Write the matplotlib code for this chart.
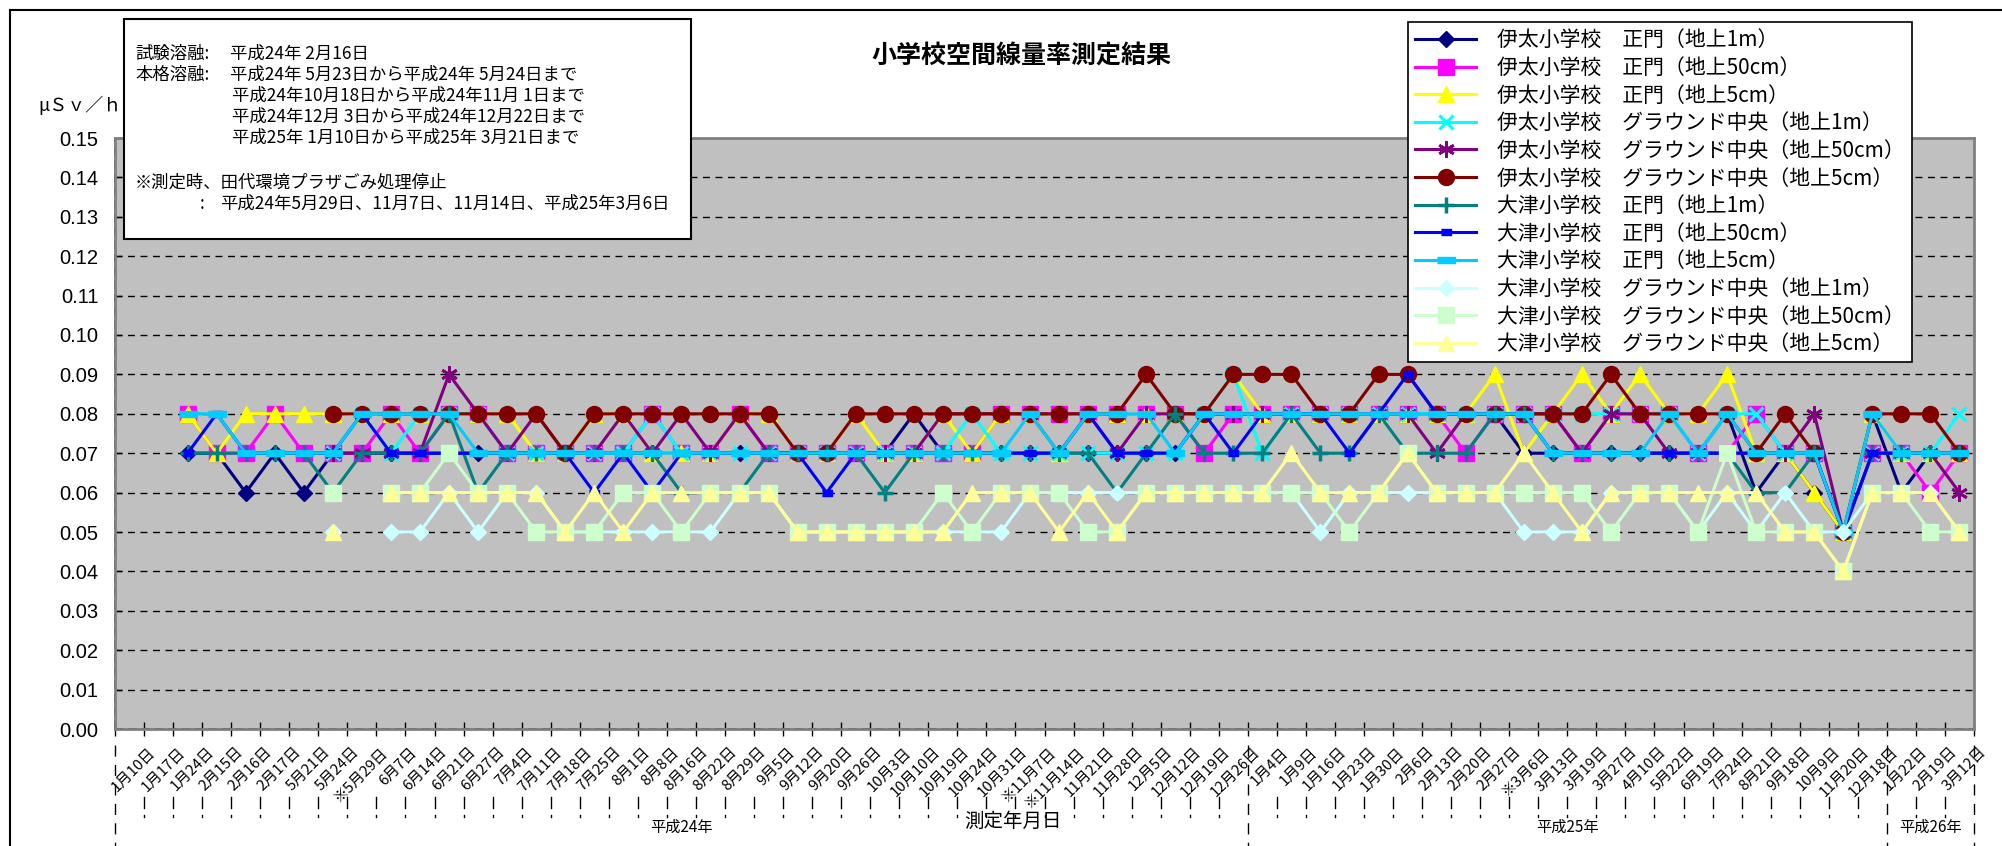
import matplotlib
matplotlib.use('Agg')
import matplotlib.pyplot as plt
import matplotlib.transforms as mtransforms
from matplotlib.lines import Line2D
from matplotlib.patches import Rectangle
import numpy as np

plt.rcParams['font.family'] = ['Noto Sans CJK JP', 'DejaVu Sans']

# ---- data -------------------------------------------------------------
dates = ['1月10日', '1月17日', '1月24日', '2月15日', '2月16日', '2月17日', '5月21日', '5月24日',
         '※5月29日', '6月7日', '6月14日', '6月21日', '6月27日', '7月4日', '7月11日', '7月18日',
         '7月25日', '8月1日', '8月8日', '8月16日', '8月22日', '8月29日', '9月5日', '9月12日',
         '9月20日', '9月26日', '10月3日', '10月10日', '10月19日', '10月24日', '10月31日', '※11月7日',
         '※11月14日', '11月21日', '11月28日', '12月5日', '12月12日', '12月19日', '12月26日', '1月4日',
         '1月9日', '1月16日', '1月23日', '1月30日', '2月6日', '2月13日', '2月20日', '2月27日',
         '※3月6日', '3月13日', '3月19日', '3月27日', '4月10日', '5月22日', '6月19日', '7月24日',
         '8月21日', '9月18日', '10月9日', '11月20日', '12月18日', '1月22日', '2月19日', '3月12日']

years = ['平成24年', '平成25年', '平成26年']
year_counts = [39, 22, 3]

names = ['伊太小学校　正門（地上1m）', '伊太小学校　正門（地上50cm）', '伊太小学校　正門（地上5cm）',
         '伊太小学校　グラウンド中央（地上1m）', '伊太小学校　グラウンド中央（地上50cm）',
         '伊太小学校　グラウンド中央（地上5cm）',
         '大津小学校　正門（地上1m）', '大津小学校　正門（地上50cm）', '大津小学校　正門（地上5cm）',
         '大津小学校　グラウンド中央（地上1m）', '大津小学校　グラウンド中央（地上50cm）',
         '大津小学校　グラウンド中央（地上5cm）']

N = None
ita_gate_1m = [N, N, .07, .07, .06, .07, .06, .07, .07, .07, .07, .07, .07, .07, .07, .07,
               .07, .07, .07, .07, .07, .07, .07, .07, .07, .07, .07, .08, .07, .07, .07, .07,
               .07, .07, .07, .07, .07, .08, .08, .08, .08, .08, .08, .08, .08, .08, .08, .08,
               .07, .07, .07, .07, .07, .07, .07, .08, .06, .07, .06, .05, .08, .06, .07, .07]
ita_gate_50 = [N, N, .08, .07, .07, .08, .07, .07, .07, .08, .07, .08, .08, .07, .07, .07,
               .07, .07, .08, .07, .07, .08, .07, .07, .07, .07, .07, .07, .07, .07, .08, .08,
               .08, .08, .08, .08, .08, .07, .08, .08, .08, .08, .08, .08, .08, .08, .07, .08,
               .08, .08, .07, .08, .08, .08, .07, .07, .08, .07, .07, .05, .07, .07, .06, .07]
ita_gate_5 = [N, N, .08, .07, .08, .08, .08, .08, .08, .08, .08, .08, .08, .08, .07, .07,
              .08, .08, .07, .07, .07, .08, .08, .07, .07, .08, .07, .07, .08, .07, .08, .08,
              .07, .08, .08, .08, .08, .08, .09, .08, .08, .08, .08, .08, .08, .08, .08, .09,
              .07, .08, .09, .08, .09, .08, .08, .09, .07, .07, .06, .05, .08, .07, .07, .07]
ita_grd_1m = [N, N, N, N, N, N, N, .07, .08, .07, .08, .08, .08, .07, .07, .07,
              .07, .07, .08, .07, .07, .07, .07, .07, .07, .07, .07, .07, .07, .08, .07, .07,
              .07, .07, .07, .07, .07, .08, .09, .07, .08, .08, .08, .08, .08, .08, .08, .08,
              .08, .08, .08, .08, .08, .08, .07, .08, .08, .07, .07, .05, .07, .07, .07, .08]
ita_grd_50 = [N, N, N, N, N, N, N, .07, .07, .07, .07, .09, .08, .07, .08, .07,
              .07, .08, .07, .08, .07, .08, .07, .07, .07, .07, .07, .07, .08, .08, .08, .08,
              .07, .08, .07, .08, .08, .08, .08, .08, .08, .08, .08, .08, .08, .07, .08, .08,
              .08, .08, .07, .08, .08, .07, .07, .07, .07, .07, .08, .05, .07, .07, .07, .06]
ita_grd_5 = [N, N, N, N, N, N, N, .08, .08, .08, .08, .08, .08, .08, .08, .07,
             .08, .08, .08, .08, .08, .08, .08, .07, .07, .08, .08, .08, .08, .08, .08, .08,
             .08, .08, .08, .09, .08, .08, .09, .09, .09, .08, .08, .09, .09, .08, .08, .08,
             .08, .08, .08, .09, .08, .08, .08, .08, .07, .08, .07, .05, .08, .08, .08, .07]
otsu_gate_1m = [N, N, .07, .07, .07, .07, .07, .06, .07, .07, .07, .08, .06, .07, .07, .07,
                .07, .07, .07, .06, .06, .06, .07, .07, .07, .07, .06, .07, .07, .07, .07, .07,
                .07, .07, .06, .07, .08, .07, .07, .07, .08, .07, .07, .08, .07, .07, .07, .08,
                .08, .07, .07, .07, .07, .07, .07, .07, .06, .06, .07, .05, .07, .07, .07, .07]
otsu_gate_50 = [N, N, .07, .08, .07, .07, .07, .07, .08, .07, .07, .07, .07, .07, .07, .07,
                .06, .07, .06, .07, .07, .07, .07, .07, .06, .07, .07, .07, .07, .07, .07, .07,
                .07, .08, .07, .07, .07, .08, .07, .08, .08, .08, .07, .08, .09, .08, .08, .08,
                .08, .07, .07, .07, .07, .07, .07, .07, .07, .07, .07, .05, .07, .07, .07, .07]
otsu_gate_5 = [N, N, .08, .08, .07, .07, .07, .07, .08, .08, .08, .08, .07, .07, .07, .07,
               .07, .07, .07, .07, .07, .07, .07, .07, .07, .07, .07, .07, .07, .07, .07, .08,
               .07, .08, .08, .08, .07, .08, .08, .08, .08, .08, .08, .08, .08, .08, .08, .08,
               .08, .07, .07, .07, .07, .08, .07, .08, .07, .07, .07, .05, .08, .07, .07, .07]
otsu_grd_1m = [N, N, N, N, N, N, N, .05, N, .05, .05, .06, .05, .06, .06, .05,
               .05, .05, .05, .05, .05, .06, .06, .05, .05, .05, .05, .05, .05, .05, .05, .06,
               .06, .06, .06, .06, .06, .06, .06, .06, .06, .05, .06, .06, .06, .06, .06, .06,
               .05, .05, .05, .06, .06, .06, .05, .06, .05, .06, .05, .05, .06, .06, .06, .05]
otsu_grd_50 = [N, N, N, N, N, N, N, .06, N, .06, .06, .07, .06, .06, .05, .05,
               .05, .06, .06, .05, .06, .06, .06, .05, .05, .05, .05, .05, .06, .05, .06, .06,
               .06, .05, .05, .06, .06, .06, .06, .06, .06, .06, .05, .06, .07, .06, .06, .06,
               .06, .06, .06, .05, .06, .06, .05, .07, .05, .05, .05, .04, .06, .06, .05, .05]
otsu_grd_5 = [N, N, N, N, N, N, N, .05, N, .06, .06, .06, .06, .06, .06, .05,
              .06, .05, .06, .06, .06, .06, .06, .05, .05, .05, .05, .05, .05, .06, .06, .06,
              .05, .06, .05, .06, .06, .06, .06, .06, .07, .06, .06, .06, .07, .06, .06, .06,
              .07, .06, .05, .06, .06, .06, .06, .06, .06, .05, .05, .04, .06, .06, .06, .05]

series = [ita_gate_1m, ita_gate_50, ita_gate_5, ita_grd_1m, ita_grd_50, ita_grd_5,
          otsu_gate_1m, otsu_gate_50, otsu_gate_5, otsu_grd_1m, otsu_grd_50, otsu_grd_5]

# ---- styles ---------------------------------------------------------------
bar_small = [(-1, -0.5), (1, -0.5), (1, 0.5), (-1, 0.5)]
bar_wide = [(-1, -0.3), (1, -0.3), (1, 0.3), (-1, 0.3)]
styles = [
    ('#000080', 'D', 8.5, 1),
    ('#FF00FF', 's', 11, 1),
    ('#FFFF00', '^', 11, 1),
    ('#00FFFF', 'x', 10, 2.2),
    ('#800080', (6, 2, 0), 12, 2),
    ('#800000', 'o', 11.5, 1),
    ('#008080', '+', 12, 2.5),
    ('#0000FF', bar_small, 7.5, 1),
    ('#00CCFF', bar_wide, 12.5, 1),
    ('#CCFFFF', 'D', 8.5, 1),
    ('#CCFFCC', 's', 11, 1),
    ('#FFFF99', '^', 11, 1),
]

W, H = 2002, 846
fig = plt.figure(figsize=(W / 100, H / 100), dpi=100)
fig.patch.set_facecolor('white')


def fx(px):
    return px / W


def fy(py):
    return 1 - py / H


left, right, top, bottom = 115, 1974, 138, 729
ax = fig.add_axes([fx(left), fy(bottom), fx(right - left), (bottom - top) / H])
ax.set_facecolor('#C0C0C0')
ax.set_xlim(-0.5, len(dates) - 0.5)
ax.set_ylim(0, 0.15)

x = np.arange(len(dates))
for vals, name, (c, m, ms, mew) in zip(series, names, styles):
    ax.plot(x, np.array(vals, dtype=float), color=c, lw=2.2, marker=m, markersize=ms,
            markerfacecolor=c, markeredgecolor=c, markeredgewidth=mew, label=name, zorder=3)

# grid
for v in np.arange(0.01, 0.145, 0.01):
    ax.axhline(v, color='black', lw=1, ls=(0, (5, 4)), zorder=1)
for sp in ax.spines.values():
    sp.set_color('#808080')
    sp.set_linewidth(2)
ax.axvline(-0.5, color='black', lw=1.2, ls=(0, (5, 3)), zorder=2.5, clip_on=False)
ax.axhline(0, color='black', lw=1.2, ls=(0, (5, 3)), zorder=2.5, clip_on=False)

ax.set_yticks(np.arange(0, 0.151, 0.01))
ax.set_yticklabels(['%.2f' % v for v in np.arange(0, 0.151, 0.01)],
                   fontfamily='Liberation Sans', fontsize=14.5)
ax.tick_params(axis='y', direction='in', length=5, width=1, color='black', pad=12)
ax.set_xticks(np.arange(-0.5, len(dates), 1))
ax.set_xticklabels([])
ax.tick_params(axis='x', direction='inout', length=10, width=1, color='black')

# category labels
base = mtransforms.blended_transform_factory(ax.transData, ax.transAxes)
off = mtransforms.ScaledTranslation(19 / 100, -16 / 100, fig.dpi_scale_trans)
for i, lab in enumerate(dates):
    ax.text(i, 0, lab, transform=base + off, rotation=45, ha='right', va='top',
            rotation_mode='anchor', fontsize=10.8, clip_on=False)

# year group labels and divider lines
step = (right - left) / len(dates)
k = 0
bounds = [0]
for yl, cnt in zip(years, year_counts):
    cx = left + step * (k + cnt / 2)
    fig.text(fx(cx), fy(827), yl, ha='center', va='center', fontsize=11)
    k += cnt
    bounds.append(k)
for b in range(len(dates) + 1):
    px = left + step * b
    if b in bounds:
        fig.add_artist(Line2D([fx(px)] * 2, [fy(745), fy(846)], color='black', lw=1,
                              ls=(0, (8, 6))))
    else:
        fig.add_artist(Line2D([fx(px)] * 2, [fy(797), fy(808)], color='black', lw=1))
        fig.add_artist(Line2D([fx(px)] * 2, [fy(815), fy(817)], color='black', lw=1))

fig.text(fx(1013), fy(821), '測定年月日', ha='center', va='center', fontsize=14)
fig.text(fx(1021), fy(56), '小学校空間線量率測定結果', ha='center', va='center',
         fontsize=18, fontweight='bold')
fig.text(fx(38), fy(105), 'μＳｖ／ｈ', ha='left', va='center', fontsize=13)

# note box
fig.add_artist(Rectangle((fx(124), fy(239)), fx(691 - 124), (239 - 19) / H,
                         transform=fig.transFigure, facecolor='white', edgecolor='black',
                         lw=1.5, zorder=10))
note_kw = dict(ha='left', va='center', fontsize=12.5, zorder=11)
fig.text(fx(135), fy(54), '試験溶融:', **note_kw)
fig.text(fx(230), fy(54), '平成24年 2月16日', **note_kw)
fig.text(fx(135), fy(75), '本格溶融:', **note_kw)
fig.text(fx(230), fy(75), '平成24年 5月23日から平成24年 5月24日まで', **note_kw)
fig.text(fx(232), fy(96), '平成24年10月18日から平成24年11月 1日まで', **note_kw)
fig.text(fx(232), fy(117), '平成24年12月 3日から平成24年12月22日まで', **note_kw)
fig.text(fx(232), fy(138), '平成25年 1月10日から平成25年 3月21日まで', **note_kw)
fig.text(fx(135), fy(183), '※測定時、田代環境プラザごみ処理停止', **note_kw)
fig.text(fx(200), fy(204), ':', **note_kw)
fig.text(fx(220), fy(204), '平成24年5月29日、11月7日、11月14日、平成25年3月6日', **note_kw)

# legend
leg = ax.legend(loc='upper left', bbox_to_anchor=(fx(1408), fy(22)),
                bbox_transform=fig.transFigure, fontsize=15, frameon=True,
                fancybox=False, edgecolor='black', framealpha=1, borderaxespad=0,
                handlelength=2.9, handletextpad=1.0, labelspacing=0.27, borderpad=0.35,
                numpoints=1)
leg.get_frame().set_linewidth(1.2)
leg.set_zorder(20)

# outer chart border (top and left visible)
fig.add_artist(Line2D([fx(10), 1], [fy(10), fy(10)], color='black', lw=1.5))
fig.add_artist(Line2D([fx(10), fx(10)], [fy(10), 0], color='black', lw=1.5))

fig.savefig('out.png', dpi=100)
